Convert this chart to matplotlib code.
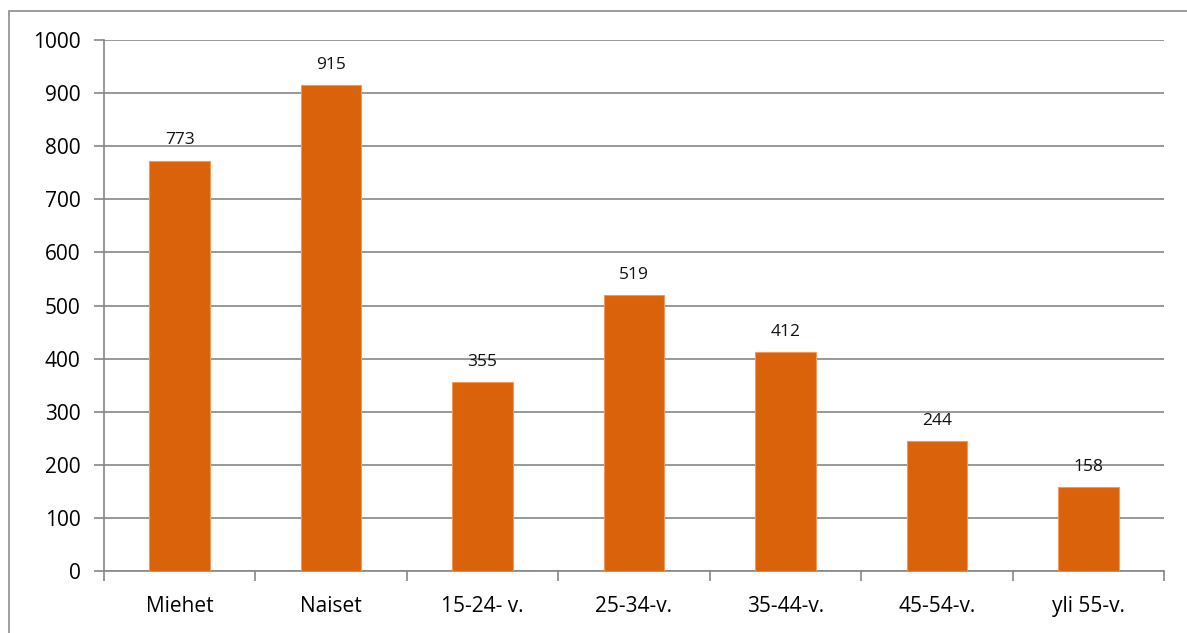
import matplotlib.pyplot as plt
import matplotlib.patches as patches
import numpy as np

categories = ["Miehet", "Naiset", "15-24- v.", "25-34-v.", "35-44-v.", "45-54-v.", "yli 55-v."]
values = [773, 915, 355, 519, 412, 244, 158]
yticks = [0, 100, 200, 300, 400, 500, 600, 700, 800, 900, 1000]

plt.rcParams['font.family'] = ['Open Sans', 'DejaVu Sans']

W, H = 1187, 633
fig = plt.figure(figsize=(W / 100, H / 100), dpi=100)
fig.patch.set_facecolor('white')

# outer chart frame (runs off the right and bottom edges)
fig.patches.append(patches.Rectangle((9 / W, -0.05), 1.2, (H - 11) / H + 0.05,
                                     transform=fig.transFigure, fill=False,
                                     edgecolor='#8c8c8c', linewidth=1.2))

ax = fig.add_axes([104 / W, (H - 571) / H, (1164 - 104) / W, (571 - 40) / H])

x = np.arange(len(categories))
bars = ax.bar(x, values, width=0.4, color='#D9620B', edgecolor='#EE9A5C', linewidth=0.8, zorder=3)

for xi, v in zip(x, values):
    ax.annotate(str(v), (xi, v), xytext=(0, 9), textcoords='offset points',
                ha='center', va='bottom', fontsize=12.5, color='#111111')

ax.set_xlim(-0.5, len(categories) - 0.5)
ax.set_ylim(0, 1000)
ax.set_yticks(yticks)
ax.set_yticklabels([str(t) for t in yticks], fontsize=15)
ax.yaxis.grid(True, color='#868686', linewidth=1.2, zorder=0)

ax.set_xticks(x)
ax.set_xticklabels(categories, fontsize=15)
ax.set_xticks(np.arange(-0.5, len(categories)), minor=True)
ax.tick_params(axis='x', which='major', length=0, pad=18)
ax.tick_params(axis='x', which='minor', length=7, color='#868686', width=1.2)
ax.tick_params(axis='y', length=7, color='#868686', width=1.2, pad=10)

for s in ['top', 'right']:
    ax.spines[s].set_visible(False)
for s in ['left', 'bottom']:
    ax.spines[s].set_color('#868686')
    ax.spines[s].set_linewidth(1.2)

fig.savefig('out.png', dpi=100)
